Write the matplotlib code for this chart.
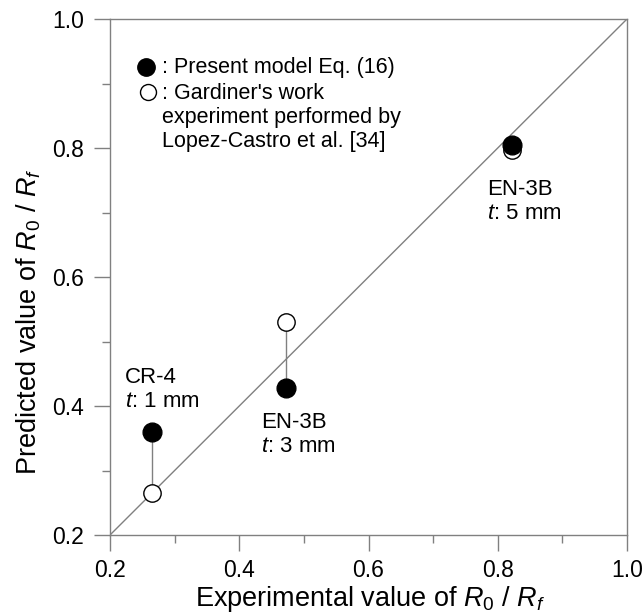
import matplotlib
matplotlib.use('Agg')
import matplotlib.pyplot as plt

plt.rcParams['font.family'] = 'Liberation Sans'
plt.rcParams['mathtext.fontset'] = 'custom'
plt.rcParams['mathtext.rm'] = 'Liberation Sans'
plt.rcParams['mathtext.it'] = 'Liberation Sans:italic'

# experimental value (x) vs predicted value (y)
exp_val = [0.265, 0.472, 0.822]
model_pred = [0.360, 0.428, 0.805]      # present model Eq. (16)
gardiner_pred = [0.265, 0.530, 0.797]   # Gardiner's work
labels = ['CR-4\n$t$: 1 mm', 'EN-3B\n$t$: 3 mm', 'EN-3B\n$t$: 5 mm']
label_pos = [(0.223, 0.398), (0.434, 0.329), (0.783, 0.690)]

fig = plt.figure(figsize=(6.43, 6.14), dpi=100)
ax = fig.add_axes([110/643, 79/614, 517/643, 516/614])

grey = '#808080'
ax.plot([0.2, 1.0], [0.2, 1.0], color=grey, lw=1.0)

for x, y1, y2 in zip(exp_val, model_pred, gardiner_pred):
    ax.plot([x, x], [y1, y2], color=grey, lw=1.0)

ax.plot(exp_val, gardiner_pred, 'o', ms=12.5, mfc='white', mec='black', mew=1.0)
ax.plot(exp_val, model_pred, 'o', ms=13.5, mfc='black', mec='black')

for lab, (lx, ly) in zip(labels, label_pos):
    ax.text(lx, ly, lab, fontsize=16, va='baseline', ha='left', linespacing=1.2)

# legend
ax.plot([0.0696], [0.907], 'o', ms=12.5, mfc='black', mec='black', transform=ax.transAxes)
ax.plot([0.0735], [0.8585], 'o', ms=11.5, mfc='white', mec='black', mew=1.0, transform=ax.transAxes)
ax.text(0.1006, 0.895, ': Present model Eq. (16)', transform=ax.transAxes,
        fontsize=15.5, va='baseline', ha='left')
ax.text(0.1006, 0.752, ": Gardiner's work\nexperiment performed by\nLopez-Castro et al. [34]",
        transform=ax.transAxes, fontsize=15.5, va='baseline', ha='left', linespacing=1.2)

ax.set_xlim(0.2, 1.0)
ax.set_ylim(0.2, 1.0)
ax.set_xticks([0.2, 0.4, 0.6, 0.8, 1.0])
ax.set_yticks([0.2, 0.4, 0.6, 0.8, 1.0])
ax.set_xticks([0.3, 0.5, 0.7, 0.9], minor=True)
ax.set_yticks([0.3, 0.5, 0.7, 0.9], minor=True)
ax.set_xticklabels(['0.2', '0.4', '0.6', '0.8', '1.0'])
ax.set_yticklabels(['0.2', '0.4', '0.6', '0.8', '1.0'])
ax.tick_params(which='major', length=11.5, width=1.0, color=grey, labelsize=16.5)
ax.tick_params(axis='x', which='major', pad=5.5)
ax.tick_params(axis='y', which='major', pad=7)
ax.tick_params(which='minor', length=6, width=1.0, color=grey)
for s in ax.spines.values():
    s.set_color(grey)
    s.set_linewidth(1.0)

ax.set_xlabel('Experimental value of $R_0$ / $R_f$', fontsize=19.5)
ax.set_ylabel('Predicted value of $R_0$ / $R_f$', fontsize=19.5)
ax.xaxis.set_label_coords(0.503, -0.095)
ax.yaxis.set_label_coords(-0.13, 0.413)

fig.savefig('out.png', dpi=100)
